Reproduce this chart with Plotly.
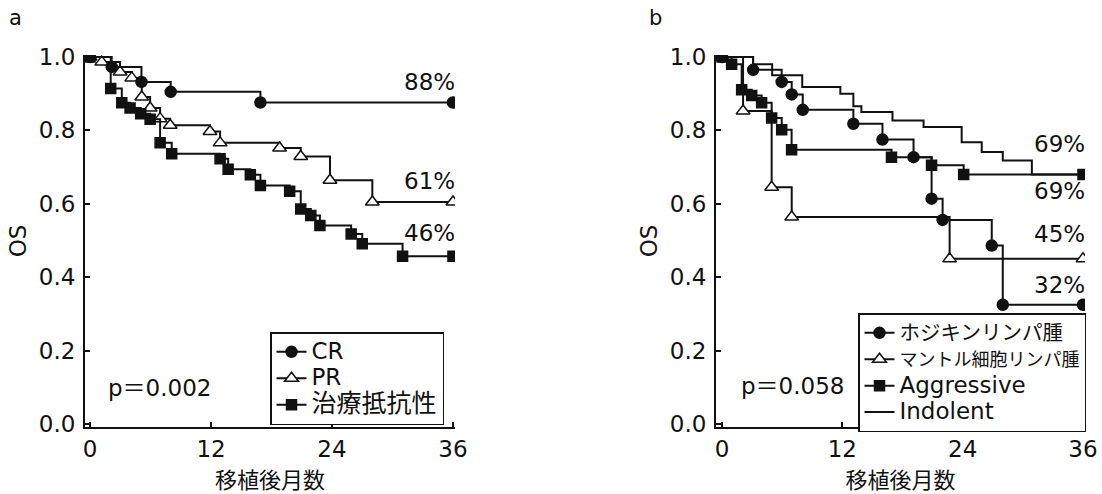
import plotly.graph_objects as go

# ---------------- data ----------------
# Panel a
cr_months = [0, 2.15, 5.1, 8.0, 16.9, 36]
cr_os = [1.0, 0.973, 0.932, 0.905, 0.876, 0.876]

pr_months = [0, 1.16, 2.98, 4.14, 5.13, 5.96, 6.95, 7.95, 11.9, 12.9, 18.8, 20.9, 23.8, 28.0, 36]
pr_os = [1.0, 0.986, 0.959, 0.943, 0.891, 0.861, 0.832, 0.814, 0.797, 0.766, 0.752, 0.729, 0.664, 0.605, 0.605]

res_months = [0, 2.05, 3.15, 3.97, 5.03, 5.96, 6.95, 8.1, 12.9, 13.7, 15.9, 16.9, 19.8,
              20.9, 21.9, 22.8, 25.9, 27.0, 31.0, 36]
res_os = [1.0, 0.914, 0.875, 0.861, 0.845, 0.830, 0.766, 0.736, 0.723, 0.694, 0.679, 0.650, 0.634,
          0.586, 0.568, 0.541, 0.518, 0.491, 0.457, 0.457]

# Panel b
hod_months = [0, 3.1, 5.95, 6.95, 8.05, 13.1, 16.0, 19.1, 20.9, 22.0, 26.9, 28.0, 36]
hod_os = [1.0, 0.965, 0.932, 0.898, 0.856, 0.818, 0.775, 0.727, 0.614, 0.556, 0.486, 0.325, 0.325]

man_months = [0, 2.1, 4.95, 6.95, 22.7, 36]
man_os = [1.0, 0.853, 0.645, 0.564, 0.45, 0.45]

agg_months = [0, 0.96, 1.96, 2.96, 3.95, 4.95, 5.95, 6.94, 16.9, 20.9, 24.1, 36]
agg_os = [1.0, 0.980, 0.911, 0.895, 0.875, 0.834, 0.802, 0.747, 0.727, 0.705, 0.680, 0.680]

ind_months = [0, 3.1, 5.0, 8.0, 11.8, 13.1, 13.9, 17.0, 20.1, 23.9, 25.9, 28.0, 30.9, 36]
ind_os = [1.0, 0.98, 0.95, 0.918, 0.90, 0.866, 0.85, 0.827, 0.809, 0.768, 0.741, 0.718, 0.68, 0.68]

x_ticks = [0, 12, 24, 36]
y_ticks = [0.0, 0.2, 0.4, 0.6, 0.8, 1.0]
x_title = "移植後月数"
y_title = "OS"

labels_a = ["CR", "PR", "治療抵抗性"]
labels_b = ["ホジキンリンパ腫", "マントル細胞リンパ腫", "Aggressive", "Indolent"]
pct_a = [("88%", 0.932), ("61%", 0.662), ("46%", 0.52)]
pct_b = [("69%", 0.764), ("69%", 0.635), ("45%", 0.518), ("32%", 0.379)]
pval_a = "p＝0.002"
pval_b = "p＝0.058"

FONT = "DejaVu Sans, Noto Sans CJK JP, sans-serif"
BLACK = "#111111"


def sized(text, px):
    return f'<span style="font-size:{px}px">{text}</span>'


fig = go.Figure()


def add_curve(xs, ys, name, symbol, size, fillc, xa, ya, legend, rank, show_markers=True):
    fig.add_trace(go.Scatter(
        x=xs, y=ys, name=name,
        mode="lines+markers" if show_markers else "lines",
        line=dict(shape="hv", color=BLACK, width=2),
        marker=dict(symbol=symbol, size=size, color=fillc,
                    line=dict(color=BLACK, width=1.5)),
        xaxis=xa, yaxis=ya, legend=legend, legendrank=rank,
    ))


# panel a (squares last so they sit on top)
add_curve(pr_months, pr_os, sized(labels_a[1], 23), "triangle-up", 12, "white", "x", "y", "legend", 2)
add_curve(cr_months, cr_os, sized(labels_a[0], 23), "circle", 11, BLACK, "x", "y", "legend", 1)
add_curve(res_months, res_os, sized(labels_a[2], 25), "square", 10, BLACK, "x", "y", "legend", 3)

# panel b
add_curve(ind_months, ind_os, sized(labels_b[3], 23), "circle", 1, BLACK, "x2", "y2", "legend2", 4, show_markers=False)
add_curve(man_months, man_os, sized(labels_b[1], 18), "triangle-up", 12, "white", "x2", "y2", "legend2", 2)
add_curve(hod_months, hod_os, sized(labels_b[0], 20.5), "circle", 11, BLACK, "x2", "y2", "legend2", 1)
add_curve(agg_months, agg_os, sized(labels_b[2], 23), "square", 10, BLACK, "x2", "y2", "legend2", 3)

axis_common = dict(
    showline=True, linecolor=BLACK, linewidth=2, showgrid=False, zeroline=False,
    ticks="inside", ticklen=5, tickwidth=1.5, tickcolor=BLACK,
    tickfont=dict(family=FONT, size=23, color=BLACK),
    mirror=False,
)

xa = dict(axis_common, range=[-0.5, 36.2], tickvals=x_ticks, ticklabelstandoff=0,
          title=dict(text=x_title, font=dict(family=FONT, size=22, color=BLACK), standoff=12))
ya = dict(axis_common, range=[-0.0082, 1.0054], tickvals=y_ticks, tickformat=".1f", ticklabelstandoff=3,
          title=dict(text=y_title, font=dict(family=FONT, size=23, color=BLACK), standoff=6))

legend_common = dict(
    bgcolor="white", bordercolor=BLACK, borderwidth=1.5,
    font=dict(family=FONT, size=18, color=BLACK),
    xanchor="left", yanchor="top", traceorder="normal",
    itemwidth=30, tracegroupgap=0,
)

annotations = []
for txt, yv in pct_a:
    annotations.append(dict(x=36, y=yv, xref="x", yref="y", text=txt, showarrow=False,
                            xanchor="right", yanchor="middle", xshift=4,
                            font=dict(family=FONT, size=23, color=BLACK)))
for txt, yv in pct_b:
    annotations.append(dict(x=36, y=yv, xref="x2", yref="y2", text=txt, showarrow=False,
                            xanchor="right", yanchor="middle", xshift=4,
                            font=dict(family=FONT, size=23, color=BLACK)))
annotations.append(dict(x=6.85, y=0.098, xref="x", yref="y", text=pval_a, showarrow=False,
                        xanchor="center", yanchor="middle", font=dict(family=FONT, size=23, color=BLACK)))
annotations.append(dict(x=7.0, y=0.104, xref="x2", yref="y2", text=pval_b, showarrow=False,
                        xanchor="center", yanchor="middle", font=dict(family=FONT, size=23, color=BLACK)))
annotations.append(dict(x=-0.07, y=1.099, xref="paper", yref="paper", text="a", showarrow=False,
                        xanchor="center", yanchor="middle", font=dict(family=FONT, size=21, color=BLACK)))
annotations.append(dict(x=0.57, y=1.099, xref="paper", yref="paper", text="b", showarrow=False,
                        xanchor="center", yanchor="middle", font=dict(family=FONT, size=21, color=BLACK)))

fig.update_layout(
    width=1102, height=494,
    margin=dict(l=85, r=17, t=55, b=67, autoexpand=False),
    paper_bgcolor="white", plot_bgcolor="white",
    font=dict(family=FONT, color=BLACK),
    xaxis=dict(xa, domain=[0, 0.37], anchor="y"),
    yaxis=dict(ya, domain=[0, 1], anchor="x"),
    xaxis2=dict(xa, domain=[0.631, 1.0], anchor="y2", range=[-0.6, 36.2]),
    yaxis2=dict(ya, domain=[0, 1], anchor="x2"),
    legend=dict(legend_common, x=0.185, y=0.255),
    legend2=dict(legend_common, x=0.773, y=0.306),
    annotations=annotations,
    showlegend=True,
)

fig.write_html("out.html", config={"displayModeBar": False},
               post_script="document.body.style.margin='0px';")
